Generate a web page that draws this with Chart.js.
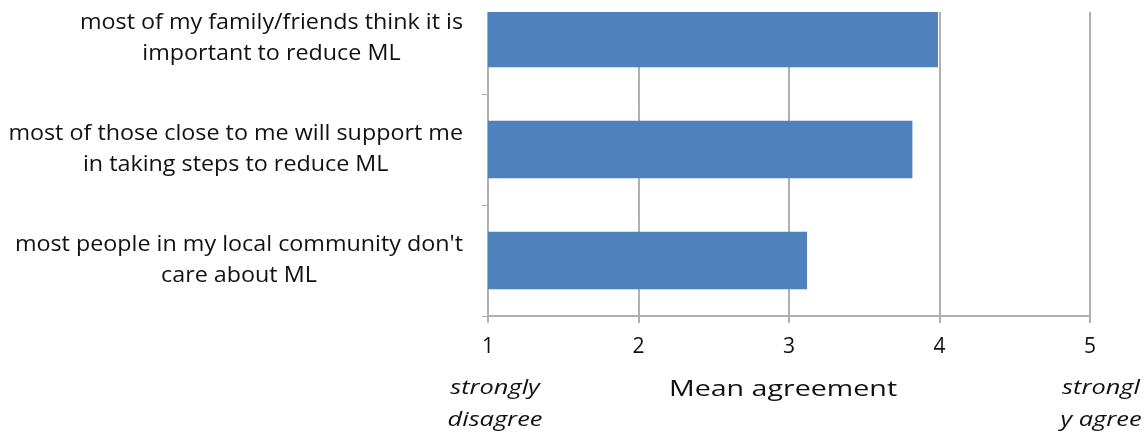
<!DOCTYPE html>
<html>
<head>
<meta charset="utf-8">
<script src="https://cdn.jsdelivr.net/npm/chart.js@4.4.0/dist/chart.umd.min.js"></script>
<style>
  body { margin: 0; background: #fff; }
  #wrap { position: absolute; left: 0; top: 12px; width: 1145px; height: 421px; overflow: hidden; }
  #cv { position: absolute; left: 0; top: -29px; }
</style>
</head>
<body>
<div id="wrap"><canvas id="cv" width="1145" height="450"></canvas></div>
<script>
let categorias = [
    ['most of my family/friends think it is', 'important to reduce ML'],
    ['most of those close to me will support me', 'in taking steps to reduce ML'],
    ['most people in my local community don\'t', 'care about ML']
];
let valores = [3.99, 3.82, 3.12];
let ticksX = [1, 2, 3, 4, 5];
let tituloX = 'Mean agreement';
let extremos = [['strongly', 'disagree'], ['strongl', 'y agree']];

let fonte = '"Open Sans", "DejaVu Sans", sans-serif';
let cinza = '#b0b0b0';

// o original parece esticado na horizontal, então o texto é desenhado com escala em x
function texto(ctx, t, x, y, sx) {
    ctx.save();
    ctx.translate(x, y);
    ctx.scale(sx, 1);
    ctx.fillText(t, 0, 0);
    ctx.restore();
}

let textosPlugin = {
    id: 'textos',
    afterDraw(chart) {
        let ctx = chart.ctx;
        let y = chart.scales.y;
        let x = chart.scales.x;
        let area = chart.chartArea;
        ctx.save();
        ctx.fillStyle = '#111';
        ctx.textBaseline = 'middle';
        ctx.textAlign = 'center';

        // rótulos das categorias
        ctx.font = '21px ' + fonte;
        let sx = 1.11;
        let direita = area.left - 25;
        categorias.forEach(function(linhas, i){
            let w = Math.max.apply(null, linhas.map(l => ctx.measureText(l).width)) * sx;
            let cx = direita - w / 2;
            let cy = y.getPixelForValue(i);
            linhas.forEach(function(l, j){
                texto(ctx, l, cx, cy + (j - (linhas.length - 1) / 2) * 31, sx);
            });
        });

        // título do eixo
        ctx.font = '22px ' + fonte;
        texto(ctx, tituloX, (area.left + area.right) / 2 - 6, area.bottom + 74, 1.3);

        // notas nos extremos
        ctx.font = 'italic 20px ' + fonte;
        let base = area.bottom + 72;
        let pos = [x.getPixelForValue(ticksX[0]) + 7, x.getPixelForValue(ticksX[ticksX.length - 1]) + 11];
        extremos.forEach(function(linhas, i){
            linhas.forEach(function(l, j){
                texto(ctx, l, pos[i], base + j * 32, 1.27);
            });
        });
        ctx.restore();
    }
};

let ctx1 = document.getElementById('cv').getContext('2d');

let myChart = new Chart(ctx1, {
    type: 'bar',
    data: {
        labels: categorias,
        datasets: [{
            data: valores,
            backgroundColor: '#4f81bd',
            categoryPercentage: 0.52,
            barPercentage: 1
        }]
    },
    options: {
        indexAxis: 'y',
        responsive: false,
        animation: false,
        layout: { padding: { right: 55 } },
        plugins: { legend: { display: false }, tooltip: { enabled: false } },
        scales: {
            x: {
                min: ticksX[0],
                max: ticksX[ticksX.length - 1],
                afterFit(scale) { scale.height = 117; },
                afterBuildTicks(scale) { scale.ticks = ticksX.map(v => ({ value: v })); },
                ticks: {
                    color: '#111',
                    font: { family: fonte, size: 21 },
                    padding: 11
                },
                grid: { color: cinza, lineWidth: 2, tickLength: 7 },
                border: { color: cinza, width: 2 }
            },
            y: {
                afterFit(scale) { scale.width = 488; },
                ticks: { display: false },
                grid: { drawOnChartArea: false, color: cinza, lineWidth: 1, tickLength: 6, offset: true },
                border: { color: cinza, width: 2 }
            }
        }
    },
    plugins: [textosPlugin]
});
</script>
</body>
</html>
